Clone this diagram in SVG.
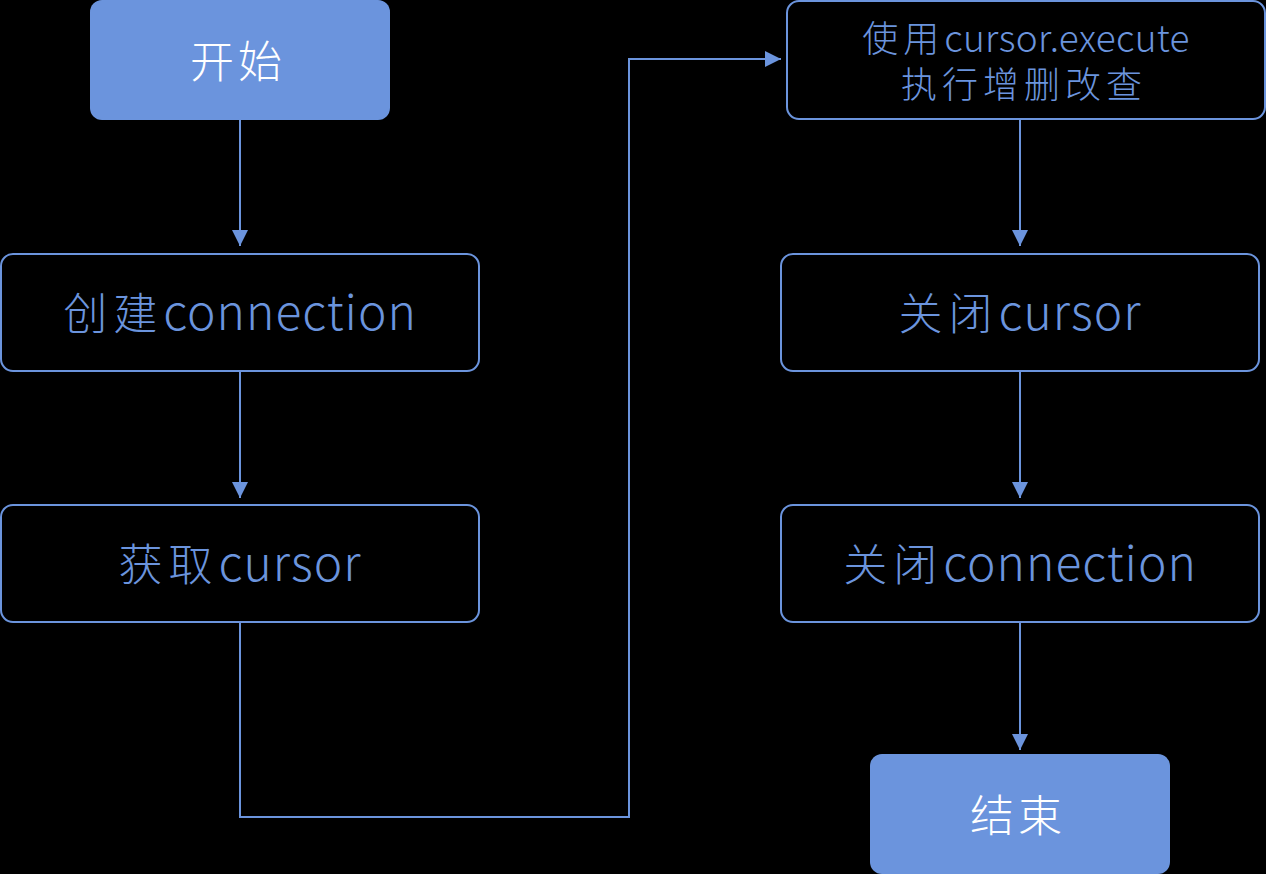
<svg xmlns="http://www.w3.org/2000/svg" width="1266" height="874" viewBox="0 0 1266 874">
<defs>
<style>
.term{fill:#6b94dd;}
.proc{fill:#000;stroke:#6b94dd;stroke-width:2;}
.t{font-family:"Noto Sans CJK SC","Noto Sans",sans-serif;text-anchor:middle;font-weight:300;}
.tw{fill:#fff;font-size:44px;}
.tb{fill:#6b94dd;font-size:44px;}
.ts{fill:#6b94dd;font-size:36px;}
.lat{font-size:48px;letter-spacing:1px;}
.lats{font-size:37px;letter-spacing:0.3px;}
.edge{fill:none;stroke:#6b94dd;stroke-width:2;}
</style>
<marker id="ah" viewBox="0 0 16 16" refX="16" refY="8" markerWidth="16" markerHeight="16" markerUnits="userSpaceOnUse" orient="auto">
<path d="M0,0 L16,8 L0,16 z" fill="#6b94dd"/>
</marker>
</defs>
<rect width="1266" height="874" fill="#000"/>
<g id="connectors">
<path class="edge" d="M240,120 L240,246" marker-end="url(#ah)"/>
<path class="edge" d="M240,372 L240,498" marker-end="url(#ah)"/>
<path class="edge" d="M240,623 L240,817 L629,817 L629,59 L781,59" marker-end="url(#ah)"/>
<path class="edge" d="M1020,120 L1020,246" marker-end="url(#ah)"/>
<path class="edge" d="M1020,372 L1020,498" marker-end="url(#ah)"/>
<path class="edge" d="M1020,623 L1020,750" marker-end="url(#ah)"/>
</g>
<g id="start">
<rect class="term" x="90" y="0" width="300" height="120" rx="12"/>
<text class="t tw" x="238" y="78" letter-spacing="4">开始</text>
</g>
<g id="create-connection">
<rect class="proc" x="1" y="254" width="478" height="117" rx="12"/>
<text class="t tb" x="240" y="330"><tspan letter-spacing="6">创建</tspan><tspan class="lat">connection</tspan></text>
</g>
<g id="get-cursor">
<rect class="proc" x="1" y="505" width="478" height="117" rx="12"/>
<text class="t tb" x="240" y="581"><tspan letter-spacing="6">获取</tspan><tspan class="lat">cursor</tspan></text>
</g>
<g id="execute">
<rect class="proc" x="787" y="1" width="478" height="118" rx="12"/>
<text class="t ts"><tspan x="1026" y="52" letter-spacing="5">使用</tspan><tspan class="lats">cursor.execute</tspan><tspan x="1024" y="98" letter-spacing="5">执行增删改查</tspan></text>
</g>
<g id="close-cursor">
<rect class="proc" x="781" y="254" width="478" height="117" rx="12"/>
<text class="t tb" x="1020" y="330"><tspan letter-spacing="6">关闭</tspan><tspan class="lat">cursor</tspan></text>
</g>
<g id="close-connection">
<rect class="proc" x="781" y="505" width="478" height="117" rx="12"/>
<text class="t tb" x="1020" y="581"><tspan letter-spacing="6">关闭</tspan><tspan class="lat">connection</tspan></text>
</g>
<g id="end">
<rect class="term" x="870" y="754" width="300" height="120" rx="12"/>
<text class="t tw" x="1018" y="832" letter-spacing="4">结束</text>
</g>
</svg>
